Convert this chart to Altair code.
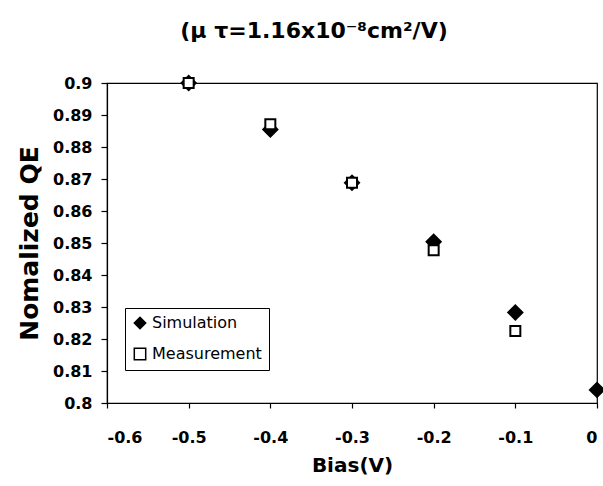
import altair as alt
import pandas as pd

# Data
sim_bias = [-0.5, -0.4, -0.3, -0.2, -0.1, 0.0]
sim_qe = [0.900, 0.8855, 0.8688, 0.8504, 0.8283, 0.8041]
meas_bias = [-0.5, -0.4, -0.3, -0.2, -0.1]
meas_qe = [0.900, 0.8871, 0.8688, 0.8477, 0.8225]

series_names = ["Simulation", "Measurement"]
x_ticks = [-0.6, -0.5, -0.4, -0.3, -0.2, -0.1, 0]
y_ticks = [0.8, 0.81, 0.82, 0.83, 0.84, 0.85, 0.86, 0.87, 0.88, 0.89, 0.9]

rows = []
for b, q in zip(sim_bias, sim_qe):
    rows.append({"bias": b, "qe": q, "series": "Simulation"})
for b, q in zip(meas_bias, meas_qe):
    rows.append({"bias": b, "qe": q, "series": "Measurement"})
df = pd.DataFrame(rows)

FONT = "DejaVu Sans"

legend = alt.Legend(
    title=None,
    orient="none",
    legendX=18,
    legendY=225,
    strokeColor="black",
    padding=7,
    labelFont=FONT,
    labelFontSize=16,
    labelColor="black",
    labelOffset=4,
    symbolSize=130,
    symbolStrokeColor="black",
    symbolStrokeWidth=1.5,
    rowPadding=13,
    fillColor="white",
)

x_enc = alt.X(
    "bias:Q",
    scale=alt.Scale(domain=[-0.6, 0], nice=False, zero=False),
    axis=alt.Axis(
        values=x_ticks,
        title="Bias(V)",
        labelExpr="replace(datum.label, '\u2212', '-')",
        format="~g",
        labelPadding=21,
        tickSize=5,
        titlePadding=10,
    ),
)
y_enc = alt.Y(
    "qe:Q",
    scale=alt.Scale(domain=[0.8, 0.9], nice=False, zero=False),
    axis=alt.Axis(
        values=y_ticks,
        format="~g",
        title="Nomalized QE",
        tickSize=6,
        labelPadding=9,
        titleFontSize=25,
        titlePadding=10,
    ),
)
shape_enc = alt.Shape(
    "series:N",
    scale=alt.Scale(domain=series_names, range=["diamond", "square"]),
    legend=legend,
)
fill_enc = alt.Fill(
    "series:N",
    scale=alt.Scale(domain=series_names, range=["black", "white"]),
    legend=legend,
)
stroke_enc = alt.Stroke(
    "series:N",
    scale=alt.Scale(domain=series_names, range=["black", "black"]),
    legend=legend,
)

base = alt.Chart(df).encode(
    x=x_enc, y=y_enc, shape=shape_enc, fill=fill_enc, stroke=stroke_enc
)

sim_layer = base.transform_filter(alt.datum.series == "Simulation").mark_point(
    filled=True, strokeWidth=2, opacity=1, size=200
)
meas_layer = base.transform_filter(alt.datum.series == "Measurement").mark_point(
    filled=True, strokeWidth=2, opacity=1, size=100
)

chart = (
    alt.layer(sim_layer, meas_layer)
    .properties(
        width=490,
        height=320,
        background="white",
        title=alt.Title(
            "(\u03bc \u03c4=1.16x10\u207b\u2078cm\u00b2/V)",
            font=FONT,
            fontSize=22,
            fontWeight="bold",
            color="black",
            anchor="middle",
            frame="group",
            offset=29,
            dx=-38,
        ),
        autosize=alt.AutoSizeParams(type="none"),
        padding={"left": 107, "top": 83, "right": 6, "bottom": 83},
    )
    .configure_view(stroke="black", strokeWidth=1.2)
    .configure_axis(
        grid=False,
        domainColor="black",
        domainWidth=1.2,
        tickColor="black",
        tickWidth=1.2,
        labelFont=FONT,
        labelFontSize=16,
        labelFontWeight="bold",
        labelColor="black",
        titleFont=FONT,
        titleFontSize=20,
        titleFontWeight="bold",
        titleColor="black",
    )
)

chart.save("out.html", embed_options={"renderer": "svg", "actions": False})
